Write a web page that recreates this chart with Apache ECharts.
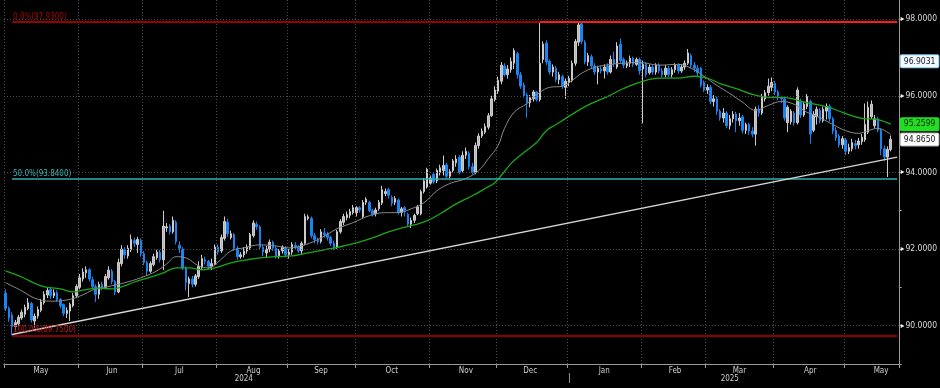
<!DOCTYPE html>
<html><head><meta charset="utf-8">
<script src="https://cdn.jsdelivr.net/npm/echarts@6/dist/echarts.min.js"></script>
<style>html,body{margin:0;padding:0;background:#000}#c{width:940px;height:388px}</style>
</head><body><div id="c"></div>
<script>
// ---------- data ----------
const startDate = '2024-05-01';
const endDate = '2025-05-23';
const monthNames = ['Jan','Feb','Mar','Apr','May','Jun','Jul','Aug','Sep','Oct','Nov','Dec'];
const yearLabelDates = ['2024-08-13','2025-03-12'];
const yearLabels = ['2024','2025'];

const opens = [
// May 2024
90.85,90.45,90.28,89.98,90.05,90.20,90.30,90.45,90.58,90.12,90.25,90.40,90.60,90.80,90.95,90.78,90.86,90.68,90.55,90.32,90.38,90.52,90.78,
// Jun
91.00,91.22,91.38,91.46,91.20,91.02,90.82,91.08,91.00,91.25,91.42,91.15,90.88,91.62,91.98,91.82,91.98,92.22,92.12,92.22,
// Jul
91.88,91.65,91.42,91.60,91.78,91.92,91.72,92.55,92.60,92.45,92.70,92.10,92.00,91.50,91.10,91.22,91.08,91.28,91.52,91.72,91.68,91.55,91.60,
// Aug
92.05,91.95,92.28,92.70,92.30,92.38,92.02,91.80,91.85,91.95,92.03,92.35,92.65,92.58,92.05,91.90,92.00,92.18,92.02,91.82,91.95,92.02,
// Sep
91.85,91.92,92.10,92.05,91.95,92.15,92.80,92.80,92.35,92.25,92.20,92.42,92.38,92.30,92.15,92.05,92.45,92.70,92.82,92.88,92.95,
// Oct
92.95,93.08,92.85,93.22,93.22,93.00,92.92,93.05,93.20,93.45,93.55,93.35,93.22,93.28,92.95,93.08,92.90,92.65,92.75,92.92,92.92,93.50,93.62,
// Nov
93.72,93.95,93.78,94.00,94.05,94.20,93.90,94.05,94.25,94.40,94.05,94.45,94.50,94.15,94.00,94.70,94.95,95.05,95.18,95.48,95.90,
// Dec
96.12,96.38,96.78,96.55,96.68,96.85,97.10,96.55,96.28,96.02,95.82,95.92,96.10,95.90,96.95,97.38,96.90,96.62,96.72,96.42,96.50,96.22,
// Jan 2025
96.35,96.40,96.85,97.40,97.88,97.40,96.88,97.02,96.78,96.62,96.70,96.65,96.78,96.62,96.95,96.75,97.35,96.95,96.78,96.85,96.98,96.82,96.95,
// Feb
96.70,96.82,96.60,96.75,96.62,96.80,96.65,96.55,96.72,96.55,96.68,96.80,96.65,96.75,96.85,97.05,96.80,96.72,96.72,96.35,
// Mar
96.15,96.22,95.85,95.92,95.60,95.42,95.55,95.22,95.40,95.52,95.35,95.45,95.10,95.25,95.08,95.00,95.65,95.55,95.92,96.08,96.22,
// Apr
96.32,96.10,95.95,95.92,95.30,95.32,95.55,95.30,95.85,95.50,95.72,95.85,95.10,95.45,95.62,95.35,95.60,95.72,95.40,95.10,94.95,94.72,
// May
94.85,94.55,94.62,94.75,94.72,94.80,94.85,95.05,95.45,95.22,95.40,95.10,94.62,94.40,94.60
];
const closes = [
90.45,90.20,89.98,90.08,90.22,90.35,90.48,90.60,90.15,90.25,90.42,90.62,90.82,90.92,90.78,90.86,90.68,90.52,90.32,90.40,90.55,90.78,91.02,
91.25,91.40,91.46,91.22,91.02,90.82,91.08,91.00,91.28,91.45,91.15,90.88,91.65,92.00,91.85,92.02,92.25,92.15,92.25,91.88,
91.65,91.42,91.62,91.80,91.92,91.72,92.60,92.58,92.45,92.75,92.20,92.02,91.50,91.12,91.22,91.08,91.30,91.55,91.75,91.68,91.55,91.62,92.05,
91.92,92.30,92.72,92.40,92.40,92.02,91.80,91.85,91.95,92.05,92.38,92.68,92.58,92.05,91.92,92.00,92.18,92.02,91.80,91.95,92.05,91.85,
91.92,92.12,92.05,91.95,92.15,92.85,92.84,92.35,92.25,92.20,92.45,92.38,92.30,92.15,92.05,92.45,92.72,92.85,92.90,92.98,93.08,
93.08,93.02,93.22,93.30,93.00,92.90,93.02,93.22,93.55,93.50,93.40,93.20,93.32,92.95,93.05,93.00,92.65,92.75,92.88,93.10,93.50,93.78,94.08,
93.85,93.75,94.05,94.12,94.18,93.90,94.02,94.30,94.35,94.00,94.45,94.55,94.15,94.00,94.70,94.95,95.08,95.20,95.48,95.92,96.15,
96.40,96.80,96.55,96.70,96.90,97.18,96.55,96.25,96.00,95.82,95.95,96.10,95.90,96.85,97.35,96.88,96.62,96.75,96.42,96.55,96.25,96.38,
96.45,96.85,97.42,97.85,97.42,96.88,97.05,96.78,96.62,96.72,96.65,96.75,96.62,96.95,96.85,97.30,96.92,96.80,96.85,96.98,96.82,96.95,96.65,
96.82,96.55,96.75,96.62,96.80,96.65,96.55,96.72,96.55,96.68,96.80,96.65,96.75,96.85,97.12,96.80,96.72,96.60,96.28,96.15,
96.22,95.85,95.92,95.60,95.42,95.55,95.22,95.40,95.52,95.35,95.42,95.10,95.25,95.08,95.00,95.65,95.55,95.98,96.08,96.25,96.35,
96.10,95.95,95.92,95.42,95.70,95.60,95.30,96.15,95.50,95.78,95.98,95.00,95.52,95.65,95.35,95.65,95.72,95.40,95.08,94.90,94.72,94.88,
94.55,94.65,94.78,94.70,94.82,94.92,95.25,95.70,95.78,95.40,95.10,94.62,94.40,94.60,94.865
];
const lows = [
90.38,90.10,89.75,89.88,90.00,90.15,90.22,90.40,90.08,89.95,90.18,90.35,90.55,90.72,90.70,90.72,90.62,90.45,90.25,90.20,90.12,90.48,90.72,
90.95,91.15,91.25,91.15,90.95,90.62,90.70,90.92,90.95,91.20,91.08,90.80,90.85,91.55,91.75,91.75,91.92,92.05,91.90,91.80,
91.58,91.30,91.38,91.55,91.72,91.65,91.45,92.45,92.38,92.40,92.12,91.90,91.45,90.92,90.75,91.00,91.02,91.22,91.45,91.60,91.48,91.45,91.58,
91.85,91.90,92.22,92.32,92.25,91.95,91.72,91.75,91.78,91.88,91.98,92.30,92.50,92.00,91.82,91.78,91.92,91.95,91.75,91.75,91.88,91.78,
91.75,91.85,91.98,91.90,91.85,92.10,92.75,92.28,92.15,92.12,92.15,92.30,92.22,92.08,91.98,92.00,92.40,92.62,92.75,92.80,92.90,
92.85,92.95,92.80,93.15,92.95,92.85,92.85,93.00,93.15,93.38,93.32,93.12,93.15,92.90,92.85,92.85,92.58,92.55,92.68,92.88,92.88,93.45,93.58,
93.68,93.70,93.72,93.92,93.92,93.85,93.85,94.00,94.15,93.95,94.00,94.35,94.08,93.95,93.95,94.62,94.90,95.00,95.12,95.45,95.85,
96.05,96.30,96.50,96.45,96.60,96.70,96.45,96.18,95.95,95.43,95.70,95.85,95.85,95.85,96.85,96.80,96.55,96.50,96.35,96.30,96.18,95.92,
96.25,96.35,96.78,97.30,97.35,96.82,96.78,96.70,96.55,96.30,96.58,96.45,96.55,96.58,96.75,96.70,96.85,96.72,96.72,96.75,96.75,96.78,96.55,
95.28,96.48,96.55,96.55,96.55,96.58,96.48,96.48,96.48,96.48,96.60,96.58,96.60,96.68,96.80,96.72,96.62,96.50,96.22,96.10,
96.05,95.78,95.72,95.50,95.35,95.30,95.15,95.12,95.30,95.05,95.22,95.02,95.00,94.98,94.92,94.70,95.45,95.50,95.85,96.00,96.12,
96.02,95.88,95.82,95.35,95.05,95.25,95.22,95.25,95.42,95.45,95.65,94.75,95.05,95.25,95.28,95.30,95.38,95.32,95.00,94.82,94.65,94.62,
94.45,94.48,94.55,94.60,94.62,94.72,94.80,95.00,95.40,95.15,95.05,94.45,94.30,93.88,94.55
];
const highs = [
90.95,90.50,90.35,90.15,90.28,90.42,90.55,90.72,90.62,90.32,90.50,90.70,90.90,91.00,91.00,90.95,90.92,90.72,90.58,90.48,90.60,90.85,91.08,
91.35,91.50,91.55,91.50,91.28,91.08,91.15,91.15,91.35,91.55,91.48,91.20,91.75,92.10,92.05,92.10,92.38,92.30,92.32,92.28,
91.95,91.70,91.68,91.88,91.98,91.98,93.00,92.68,92.65,92.85,92.75,92.20,92.05,91.55,91.28,91.30,91.35,91.68,91.85,91.80,91.72,91.75,92.12,
92.12,92.38,92.85,92.78,92.48,92.42,92.08,91.92,92.05,92.12,92.42,92.75,92.72,92.62,92.10,92.08,92.25,92.22,92.08,92.00,92.10,92.08,
92.00,92.18,92.18,92.10,92.20,92.92,92.90,92.85,92.42,92.30,92.52,92.55,92.45,92.35,92.22,92.50,92.78,92.92,92.98,93.05,93.15,
93.12,93.12,93.28,93.35,93.26,93.05,93.08,93.28,93.65,93.58,93.60,93.40,93.38,93.32,93.10,93.12,92.95,92.82,92.92,93.15,93.55,93.85,94.12,
93.92,94.00,94.10,94.20,94.44,94.25,94.08,94.35,94.45,94.45,94.55,94.65,94.55,94.25,94.78,95.02,95.15,95.28,95.55,96.00,96.25,
96.50,96.88,96.85,96.80,97.00,97.24,97.15,96.62,96.35,96.08,96.02,96.15,96.12,97.93,97.42,97.45,96.95,96.82,96.78,96.62,96.55,96.45,
96.52,96.92,97.48,97.93,97.93,97.45,97.12,97.08,96.85,96.78,96.78,96.82,96.85,97.05,97.15,97.40,97.50,97.00,96.92,97.05,97.02,97.00,97.00,
96.92,96.88,96.82,96.80,96.85,96.85,96.72,96.80,96.78,96.75,96.85,96.85,96.82,96.92,97.22,97.10,96.88,96.80,96.75,96.40,
96.30,96.28,96.02,95.98,95.65,95.68,95.60,95.50,95.60,95.58,95.55,95.50,95.30,95.30,95.18,95.72,95.75,96.05,96.15,96.45,96.48,
96.38,96.15,96.00,95.95,95.75,95.65,95.60,96.22,95.92,95.85,96.05,95.90,95.60,95.72,95.68,95.72,95.80,95.78,95.45,95.18,95.00,94.95,
94.90,94.75,94.88,94.85,94.90,95.00,95.80,95.85,95.88,95.50,95.45,95.15,94.70,94.68,94.96
];

// moving averages (category index -> value)
const grayMaIdx = [0,5,9,14,19,23,28,33,37,42,47,50,53,56,60,63,66,70,74,79,84,88,93,98,103,108,113,118,122,126,130,134,138,143,147,150,153,155,158,162,166,169,173,176,179,183,188,192,197,203,209,213,217,221,225,229,233,237,241,245,249,253,257,261,265,268,271,275];
const grayMaVal = [91.12,90.91,90.72,90.64,90.67,90.77,90.96,91.04,91.12,91.25,91.43,91.61,91.80,91.77,91.56,91.51,91.66,91.95,92.03,92.11,92.08,92.03,92.11,92.29,92.53,92.69,92.87,92.95,92.95,93.05,93.21,93.52,93.71,93.84,94.05,94.36,94.70,95.15,95.57,95.80,96.09,96.22,96.25,96.40,96.59,96.74,96.82,96.85,96.87,96.80,96.82,96.72,96.51,96.27,96.06,95.83,95.62,95.75,95.85,95.78,95.57,95.43,95.25,95.09,95.02,95.09,95.15,94.99];
const greenMaIdx = [0,5,11,17,21,24,29,33,36,40,45,49,53,57,61,65,70,75,79,84,89,94,99,104,109,114,119,123,127,131,135,140,145,149,152,154,157,161,165,168,171,174,178,182,187,192,197,203,209,214,218,222,227,232,237,242,246,250,255,260,266,271,275];
const greenMaVal = [91.43,91.27,91.04,90.96,90.88,90.93,90.98,90.96,91.01,91.14,91.27,91.38,91.51,91.51,91.46,91.51,91.64,91.72,91.77,91.80,91.82,91.90,91.98,92.06,92.16,92.29,92.45,92.55,92.63,92.74,92.92,93.18,93.39,93.58,93.73,93.92,94.23,94.52,94.78,95.09,95.25,95.41,95.62,95.80,95.98,96.19,96.35,96.46,96.46,96.51,96.46,96.32,96.19,96.04,95.96,95.96,95.88,95.80,95.72,95.57,95.41,95.38,95.26];

const gridValues = [90,92,94,96,98];
const fibAnchorIdx = 2;
const fibLevels = [97.93, 93.84, 89.75];
const fibLabels = ['0.0%(97.9300)','50.0%(93.8400)','100.0%(89.7500)'];
const fibHighIdx = 166;
const trendStart = [2, 89.77];
const trendEndValue = 94.40;
const tagValues = [96.9031, 95.2599, 94.8650];
const tagTexts = ['96.9031','95.2599','94.8650'];

// ---------- build ----------
const FONT = '"DejaVu Sans Condensed","Liberation Sans Narrow","Liberation Sans",sans-serif';
const FS = 8;
const dates = [];
(function(){
  const d = new Date(startDate + 'T00:00:00Z');
  const e = new Date(endDate + 'T00:00:00Z');
  while (d <= e) {
    const w = d.getUTCDay();
    if (w !== 0 && w !== 6) dates.push(d.toISOString().slice(0,10));
    d.setUTCDate(d.getUTCDate() + 1);
  }
})();
const lastIdx = dates.length - 1;
const ym = s => s.slice(0,7);
const monthStart = new Set();
const monthLabelIdx = new Set();
const seen = {};
dates.forEach((s,i) => {
  if (i === 0 || ym(s) !== ym(dates[i-1])) monthStart.add(i);
  const m = ym(s);
  if (!seen[m] && +s.slice(8,10) >= 16) { seen[m] = true; monthLabelIdx.add(i); }
});
const yearStart = new Set();
dates.forEach((s,i) => { if (i > 0 && s.slice(0,4) !== dates[i-1].slice(0,4)) yearStart.add(i); });
const yearLabelIdx = {};
yearLabelDates.forEach((s,k) => { yearLabelIdx[dates.indexOf(s)] = yearLabels[k]; });

const candleData = opens.map((o,i) => [o, closes[i], lows[i], highs[i]]);
const grayMa = grayMaIdx.map((i,k) => [i, grayMaVal[k]]);
const greenMa = greenMaIdx.map((i,k) => [i, greenMaVal[k]]);

const fibColors = ['#9a0000','#2fb0b0','#8b0000'];
const fibTextColors = ['#b00000','#35b8b8','#d01515'];
const fibWidths = [2, 1.5, 2];
const fibLines = fibLevels.map((v,k) => [
  { coord: [fibAnchorIdx, v], lineStyle: { color: fibColors[k], width: fibWidths[k], type: 'solid' },
    label: { show: true, position: 'insideStartTop', formatter: fibLabels[k], color: fibTextColors[k],
             fontSize: FS, fontFamily: FONT, distance: [1, 1] } },
  { coord: [lastIdx, v] }
]);
fibLines.push([
  { coord: [fibHighIdx, fibLevels[0]], lineStyle: { color: '#ff1a1a', width: 2, type: 'solid' }, label: { show: false } },
  { coord: [lastIdx, fibLevels[0]] }
]);
fibLines.push([
  { coord: trendStart, lineStyle: { color: '#d6d6d6', width: 1.3, type: 'solid' }, label: { show: false } },
  { coord: [lastIdx, trendEndValue] }
]);

const tagStyles = [
  { backgroundColor: '#f4f9ff', borderColor: '#7cc6f0', color: '#101820' },
  { backgroundColor: '#22dd22', borderColor: '#22dd22', color: '#002200' },
  { backgroundColor: '#ffffff', borderColor: '#b0b0b0', color: '#101010' }
];
const tagLines = tagValues.map((v,k) => ({
  yAxis: v,
  lineStyle: { color: 'rgba(0,0,0,0)', width: 0 },
  label: Object.assign({ show: true, position: 'end', formatter: tagTexts[k], fontSize: FS + 0.5,
    fontFamily: FONT, borderWidth: 1, padding: [2,3,1,3], distance: 2, borderRadius: 1 }, tagStyles[k])
}));

const chart = echarts.init(document.getElementById('c'), null, { renderer: 'canvas' });
chart.setOption({
  backgroundColor: '#000000',
  animation: false,
  grid: { left: 4, right: 40, top: 0, bottom: 24, containLabel: false },
  xAxis: [{
    type: 'category', data: dates, boundaryGap: true,
    axisLine: { show: true, lineStyle: { color: '#9a9a9a', width: 1 } },
    axisTick: { show: true, interval: i => monthStart.has(i), length: 4, lineStyle: { color: '#9a9a9a' } },
    splitLine: { show: true, interval: i => monthStart.has(i), lineStyle: { color: '#4c4c4c', type: [1,2], width: 1 } },
    axisLabel: { interval: i => monthLabelIdx.has(i), formatter: s => monthNames[+s.slice(5,7) - 1],
                 color: '#cfcfcf', fontSize: FS, fontFamily: FONT, margin: 3 }
  }, {
    type: 'category', data: dates, boundaryGap: true, position: 'bottom', offset: 9,
    axisLine: { show: false },
    axisTick: { show: true, alignWithLabel: true, interval: i => yearStart.has(i), length: 10, lineStyle: { color: '#8a8a8a' } },
    splitLine: { show: false },
    axisLabel: { interval: i => yearLabelIdx[i] !== undefined, formatter: s => yearLabelIdx[dates.indexOf(s)] || '',
                 color: '#cfcfcf', fontSize: FS, fontFamily: FONT, margin: 2 }
  }],
  yAxis: {
    type: 'value', position: 'right', min: 89, max: 98.5, interval: 1, scale: true,
    axisLine: { show: true, lineStyle: { color: '#9a9a9a' } },
    axisTick: { show: true, length: 3, lineStyle: { color: '#9a9a9a' } },
    splitLine: { show: false },
    axisLabel: {
      showMaxLabel: false, margin: 2, fontSize: FS + 0.5, fontFamily: FONT, color: '#dcdcdc',
      formatter: v => (Math.round(v) % 2 === 0 && v <= 98) ? '{t|▸}' + v.toFixed(4) : '',
      rich: { t: { fontSize: 8, color: '#f0f0f0', padding: [0,1,0,0] } }
    }
  },
  series: [
    { type: 'line', name: 'grid', data: [], silent: true, z: 1,
      markLine: { silent: true, symbol: ['none','none'], animation: false, label: { show: false },
        lineStyle: { color: '#4c4c4c', type: [1,2], width: 1 },
        data: gridValues.map(v => ({ yAxis: v })) } },
    { type: 'line', name: 'fib', data: [], silent: true, z: 2,
      markLine: { silent: true, symbol: ['none','none'], animation: false, data: fibLines } },
    { type: 'candlestick', name: 'price', data: candleData, barWidth: 2, z: 3,
      itemStyle: { color: '#b8b8b8', borderColor: '#cccccc', color0: '#1a84f0', borderColor0: '#1a84f0', borderWidth: 1 } },
    { type: 'line', name: 'ma gray', data: grayMa, smooth: 0.4, connectNulls: true, showSymbol: false, z: 4,
      lineStyle: { color: '#8a8a8a', width: 1 } },
    { type: 'line', name: 'ma green', data: greenMa, smooth: 0.4, connectNulls: true, showSymbol: false, z: 4,
      lineStyle: { color: '#1aa81a', width: 1.3 } },
    { type: 'line', name: 'tags', data: [], silent: true, z: 10,
      markLine: { silent: true, symbol: ['none','none'], animation: false, data: tagLines } }
  ]
});
</script>
</body></html>
